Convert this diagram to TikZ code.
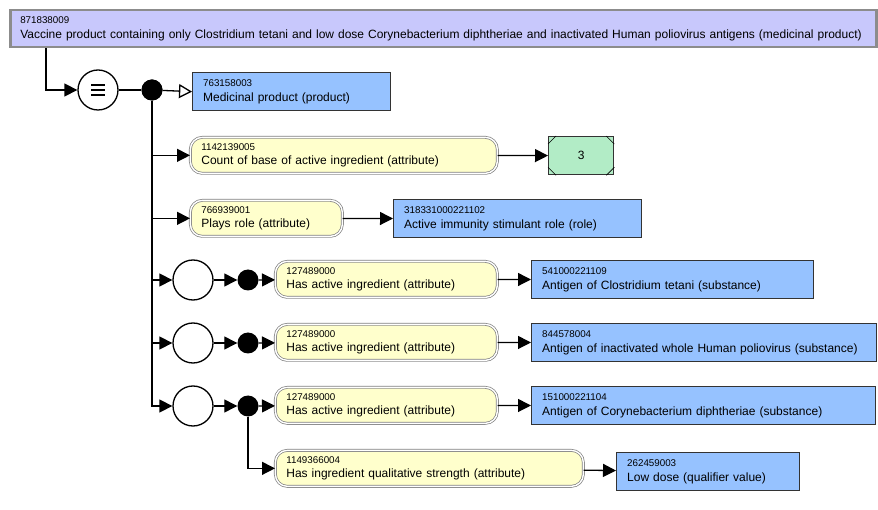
\documentclass[tikz,border=0pt]{standalone}
\usepackage{fontspec}
\setmainfont{Liberation Sans}
\usetikzlibrary{arrows.meta}
\definecolor{topfill}{RGB}{200,200,252}
\definecolor{conceptfill}{RGB}{150,194,255}
\definecolor{attrfill}{RGB}{255,255,204}
\definecolor{valfill}{RGB}{178,236,198}
\newcommand{\idtxt}[1]{{\fontsize{9.8}{11}\selectfont #1}}

\begin{document}
\begin{tikzpicture}[x=1pt, y=-1pt, font=\fontsize{12}{14.5}\selectfont,
  defined/.style={draw=black!45, line width=2.5pt, fill=topfill, minimum height=37pt, inner xsep=10pt, inner ysep=0pt, align=left, anchor=north west, text width=#1},
  concept/.style={draw=black!80, line width=1.3pt, fill=conceptfill, minimum height=38pt, inner xsep=10.5pt, inner ysep=0pt, align=left, anchor=north west, text width=#1},
  attr/.style={draw=black!50, double=white, double distance=1.4pt, line width=0.7pt, rounded corners=12pt, fill=attrfill, minimum height=36pt, inner xsep=11pt, inner ysep=0pt, align=left, anchor=north west, text width=#1},
  valbox/.style={draw=black!80, line width=1.3pt, fill=valfill, minimum width=65pt, minimum height=38pt, anchor=north west},
  conj/.style={circle, draw, line width=1.3pt, fill=white, minimum size=40pt, inner sep=0pt},
  attrgroup/.style={circle, draw, line width=1.3pt, fill=white, minimum size=40pt, inner sep=0pt},
  junction/.style={circle, fill=black, minimum size=21pt, inner sep=0pt},
  arr/.style={line width=1.3pt, -{Triangle[length=13pt,width=13pt]}},
  isa/.style={line width=1.3pt, -{Triangle[open,length=13pt,width=14pt,fill=white]}}]
\useasboundingbox (0,0) rectangle (878,510);

\node[defined=846pt] (top) at (9,9) {\idtxt{871838009}\\Vaccine product containing only Clostridium tetani and low dose Corynebacterium diphtheriae and inactivated Human poliovirus antigens (medicinal product)};

\node[conj] (eq) at (98,90) {};
\node[junction] (dot) at (152,90) {};
\node[concept=177pt] (mp) at (192,72) {\idtxt{763158003}\\Medicinal product (product)};

\node[attr=285pt] (cnt) at (190,137) {\idtxt{1142139005}\\Count of base of active ingredient (attribute)};
\node[valbox] (val) at (548,136) {3};
\node[attr=130pt] (role) at (190,200) {\idtxt{766939001}\\Plays role (attribute)};
\node[concept=227pt] (stim) at (393,199) {\idtxt{318331000221102}\\Active immunity stimulant role (role)};

\node[attrgroup] (g1) at (193,280) {};
\node[junction] (d1) at (248,280) {};
\node[attr=200pt] (ha1) at (275,261) {\idtxt{127489000}\\Has active ingredient (attribute)};
\node[concept=261pt] (s1) at (531,260) {\idtxt{541000221109}\\Antigen of Clostridium tetani (substance)};

\node[attrgroup] (g2) at (193,343) {};
\node[junction] (d2) at (248,343) {};
\node[attr=200pt] (ha2) at (275,324) {\idtxt{127489000}\\Has active ingredient (attribute)};
\node[concept=324pt] (s2) at (531,323) {\idtxt{844578004}\\Antigen of inactivated whole Human poliovirus (substance)};

\node[attrgroup] (g3) at (193,406) {};
\node[junction] (d3) at (248,406) {};
\node[attr=200pt] (ha3) at (275,387) {\idtxt{127489000}\\Has active ingredient (attribute)};
\node[concept=323pt] (s3) at (531,386) {\idtxt{151000221104}\\Antigen of Corynebacterium diphtheriae (substance)};
\node[attr=286pt] (hs) at (275,450) {\idtxt{1149366004}\\Has ingredient qualitative strength (attribute)};
\node[concept=162pt] (low) at (616,452) {\idtxt{262459003}\\Low dose (qualifier value)};

% equivalence sign and corners of the value box
\foreach \dy in {-5,0,5}
  \draw[line width=1.8pt] ([shift={(-7,\dy)}]eq.center) -- ++(14,0);
\foreach \c/\dx/\dy in {north west/8/8, north east/-8/8, south west/8/-8, south east/-8/-8}
  \draw[line width=0.6pt] ([yshift=-\dy pt]val.\c) -- ([xshift=\dx pt]val.\c);

\draw[arr] ([xshift=37pt]top.south west) |- (eq.west);
\draw[line width=1.3pt] (eq) -- (dot);
\draw[isa] (dot) -- (mp.west);
\draw[arr] (dot) |- (cnt.west);
\draw[arr] (cnt) -- (val);
\draw[arr] (dot) |- (role.west);
\draw[arr] (role) -- (stim);
\draw[arr] (dot) |- (g1.west);
\draw[arr] (dot) |- (g2.west);
\draw[arr] (dot) |- (g3.west);
\draw[arr] (g1) -- (d1);
\draw[arr] (d1) -- (ha1);
\draw[arr] (ha1) -- (s1);
\draw[arr] (g2) -- (d2);
\draw[arr] (d2) -- (ha2);
\draw[arr] (ha2) -- (s2);
\draw[arr] (g3) -- (d3);
\draw[arr] (d3) -- (ha3);
\draw[arr] (ha3) -- (s3);
\draw[arr] (d3) |- (hs.west);
\draw[arr] (hs) -- (low);
\node[junction] at (dot) {};
\end{tikzpicture}
\end{document}
